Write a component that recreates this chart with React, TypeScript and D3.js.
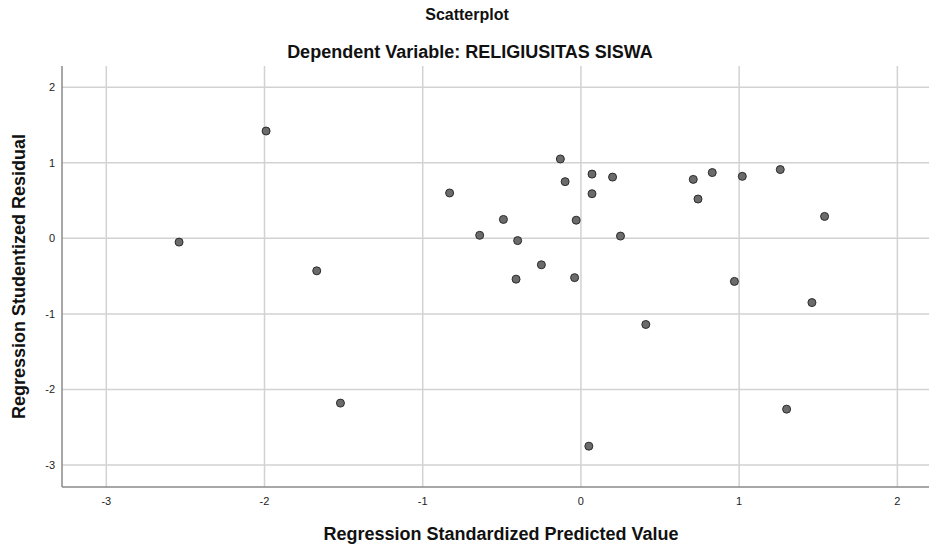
import { useEffect, useRef } from 'react'
import * as d3 from 'd3'

// Regression Standardized Predicted Value
const predicted = [
  -2.54, -1.99, -1.67, -1.52, -0.83, -0.64, -0.49, -0.4, -0.41, -0.25, -0.13, -0.1, -0.03, -0.04,
  0.07, 0.07, 0.2, 0.25, 0.05, 0.41, 0.71, 0.74, 0.83, 0.97, 1.02, 1.26, 1.3, 1.46, 1.54,
]
// Regression Studentized Residual
const residual = [
  -0.05, 1.42, -0.43, -2.18, 0.6, 0.04, 0.25, -0.03, -0.54, -0.35, 1.05, 0.75, 0.24, -0.52,
  0.85, 0.59, 0.81, 0.03, -2.75, -1.14, 0.78, 0.52, 0.87, -0.57, 0.82, 0.91, -2.26, -0.85, 0.29,
]
const xTicks = [-3, -2, -1, 0, 1, 2]
const yTicks = [2, 1, 0, -1, -2, -3]

const title = 'Scatterplot'
const subtitle = 'Dependent Variable: RELIGIUSITAS SISWA'
const xLabel = 'Regression Standardized Predicted Value'
const yLabel = 'Regression Studentized Residual'

const W = 929
const H = 544
const plot = { left: 62, right: 929, top: 66, bottom: 487 }

export default function App() {
  const ref = useRef<SVGSVGElement>(null)

  useEffect(() => {
    if (!ref.current) return
    const svg = d3.select(ref.current)
    svg.selectAll('*').remove()

    const x = d3.scaleLinear().domain([-3.28, 2.2]).range([plot.left, plot.right])
    const y = d3.scaleLinear().domain([-3.29, 2.28]).range([plot.bottom, plot.top])

    svg.append('rect').attr('width', W).attr('height', H).attr('fill', '#fff')

    // grid
    svg
      .append('g')
      .selectAll('line')
      .data(xTicks)
      .enter()
      .append('line')
      .attr('x1', (d) => x(d))
      .attr('x2', (d) => x(d))
      .attr('y1', plot.top)
      .attr('y2', plot.bottom)
      .attr('stroke', '#d2d2d2')
      .attr('stroke-width', 1.5)

    svg
      .append('g')
      .selectAll('line')
      .data(yTicks)
      .enter()
      .append('line')
      .attr('x1', plot.left)
      .attr('x2', plot.right)
      .attr('y1', (d) => y(d))
      .attr('y2', (d) => y(d))
      .attr('stroke', '#d2d2d2')
      .attr('stroke-width', 1.5)

    // axis lines
    svg
      .append('line')
      .attr('x1', plot.left)
      .attr('x2', plot.left)
      .attr('y1', plot.top)
      .attr('y2', plot.bottom)
      .attr('stroke', '#8a8a8a')
      .attr('stroke-width', 1.5)
    svg
      .append('line')
      .attr('x1', plot.left)
      .attr('x2', plot.right)
      .attr('y1', plot.bottom)
      .attr('y2', plot.bottom)
      .attr('stroke', '#8a8a8a')
      .attr('stroke-width', 1.5)

    // tick labels
    svg
      .append('g')
      .selectAll('text')
      .data(yTicks)
      .enter()
      .append('text')
      .attr('x', plot.left - 7)
      .attr('y', (d) => y(d) + 4)
      .attr('text-anchor', 'end')
      .style('font', '11px Arial, "Liberation Sans", sans-serif')
      .attr('fill', '#222')
      .text((d) => d)

    svg
      .append('g')
      .selectAll('text')
      .data(xTicks)
      .enter()
      .append('text')
      .attr('x', (d) => x(d))
      .attr('y', plot.bottom + 18)
      .attr('text-anchor', 'middle')
      .style('font', '11px Arial, "Liberation Sans", sans-serif')
      .attr('fill', '#222')
      .text((d) => d)

    // points
    svg
      .append('g')
      .selectAll('circle')
      .data(d3.zip(predicted, residual))
      .enter()
      .append('circle')
      .attr('cx', (d) => x(d[0]))
      .attr('cy', (d) => y(d[1]))
      .attr('r', 4)
      .attr('fill', '#6b6b6b')
      .attr('stroke', '#2b2b2b')
      .attr('stroke-width', 1)

    // titles
    svg
      .append('text')
      .attr('x', 467)
      .attr('y', 20)
      .attr('text-anchor', 'middle')
      .style('font', 'bold 16px Arial, "Liberation Sans", sans-serif')
      .attr('fill', '#111')
      .text(title)
    svg
      .append('text')
      .attr('x', 470)
      .attr('y', 58)
      .attr('text-anchor', 'middle')
      .style('font', 'bold 18px Arial, "Liberation Sans", sans-serif')
      .attr('fill', '#111')
      .text(subtitle)
    svg
      .append('text')
      .attr('x', 501)
      .attr('y', 540)
      .attr('text-anchor', 'middle')
      .style('font', 'bold 18px Arial, "Liberation Sans", sans-serif')
      .attr('fill', '#111')
      .text(xLabel)
    svg
      .append('text')
      .attr('transform', `translate(25, ${(plot.top + plot.bottom) / 2}) rotate(-90)`)
      .attr('text-anchor', 'middle')
      .style('font', 'bold 18px Arial, "Liberation Sans", sans-serif')
      .attr('fill', '#111')
      .text(yLabel)
  }, [])

  return (
    <div style={{ position: 'absolute', left: 0, top: 0, width: W, height: H }}>
      <svg width={W} height={H} ref={ref} style={{ display: 'block' }} />
    </div>
  )
}
